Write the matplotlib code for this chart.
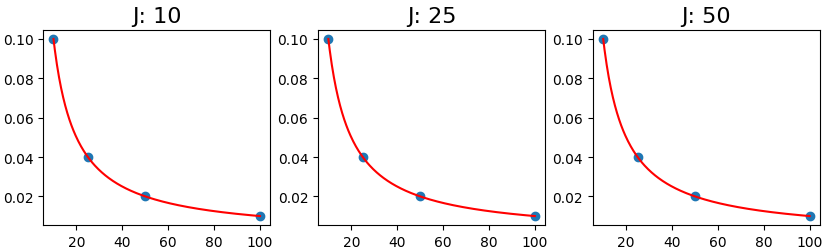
import numpy as np
import matplotlib
matplotlib.use("Agg")
import matplotlib.pyplot as plt

# Observed points (same in every panel)
x_pts = [10, 25, 50, 100]
y_pts = [0.10, 0.04, 0.02, 0.01]
j_values = [10, 25, 50]

# Fit y = a / x to the points by least squares
x_arr = np.array(x_pts, dtype=float)
y_arr = np.array(y_pts, dtype=float)
a = np.sum(y_arr / x_arr) / np.sum(1.0 / x_arr**2)
x_fit = np.linspace(min(x_pts), max(x_pts), 300)
y_fit = a / x_fit

fig, axes = plt.subplots(1, 3, figsize=(8.3, 2.53), dpi=100)
fig.subplots_adjust(left=0.052, right=0.988, top=0.877, bottom=0.107, wspace=0.21)

for ax, j in zip(axes, j_values):
    ax.scatter(x_pts, y_pts)
    ax.plot(x_fit, y_fit, color="red")
    ax.set_title(f"J: {j}", fontsize=16)

plt.savefig("out.png")
